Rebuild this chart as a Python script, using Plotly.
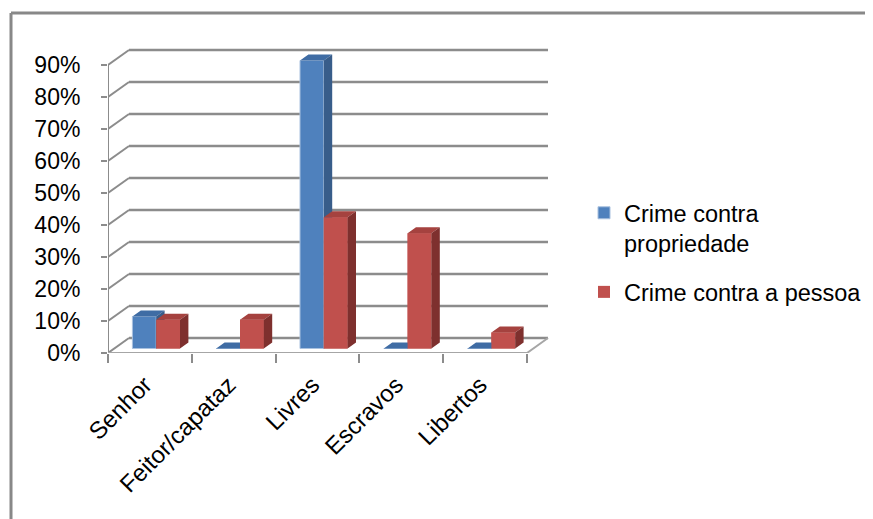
import plotly.graph_objects as go

# ---- data ----
categories = ["Senhor", "Feitor/capataz", "Livres", "Escravos", "Libertos"]
propriedade = [10, 0, 90, 0, 0]      # Crime contra propriedade (%)
pessoa = [9, 9, 41, 36, 5]           # Crime contra a pessoa (%)
y_ticks = [0, 10, 20, 30, 40, 50, 60, 70, 80, 90]
y_ticktext = [f"{v}%" for v in y_ticks]
series_names = ["Crime contra<br>propriedade", "Crime contra a pessoa"]

# ---- geometry (screen pixels) ----
FIG_W, FIG_H = 873, 519
OFF = 6            # page offset of the figure inside the browser window
L, R, T, B = 106, 560, 30, 351
W, H = R - L, B - T
XU = 83.8          # px per category
YU = 3.2           # px per percent
DX = 21 / XU       # wall depth in x units
DY = 15 / YU       # wall depth in y units (%)
F0, F1 = 0.3, 0.7  # bar depth position within the wall depth
BW = 0.284         # single bar width (category units)
LABEL_SHIFT = 5 / XU

n = len(categories)
GRID = "#8c8c8c"
FLOOR = "#a6a6a6"
BLUE, BLUE_TOP, BLUE_SIDE = "#4F81BD", "#3F6CA4", "#385D8A"
RED, RED_TOP, RED_SIDE = "#C0504D", "#A5423F", "#7E302E"

fig = go.Figure()

shapes = []
for v in y_ticks:
    shapes.append(dict(type="line", x0=DX, x1=n + DX, y0=v + DY, y1=v + DY,
                       line=dict(color=GRID, width=2.5), layer="below"))
    shapes.append(dict(type="line", x0=0, x1=DX, y0=v, y1=v + DY,
                       line=dict(color=GRID, width=2), layer="below"))
shapes.append(dict(type="line", x0=0, x1=0, y0=0, y1=y_ticks[-1],
                   line=dict(color=GRID, width=2), layer="below"))
shapes.append(dict(type="line", x0=0, x1=n, y0=0, y1=0,
                   line=dict(color=FLOOR, width=2), layer="below"))
shapes.append(dict(type="line", x0=n, x1=n + DX, y0=0, y1=DY,
                   line=dict(color=FLOOR, width=2), layer="below"))

def px_x(p):
    return (p - L) / W
def px_y(p):
    return (B - p) / H
shapes.append(dict(type="line", xref="paper", yref="paper",
                   x0=px_x(9), x1=px_x(9), y0=px_y(11), y1=px_y(FIG_H + 10),
                   line=dict(color="#888888", width=3)))
shapes.append(dict(type="line", xref="paper", yref="paper",
                   x0=px_x(9), x1=px_x(FIG_W + 10), y0=px_y(11), y1=px_y(11),
                   line=dict(color="#888888", width=3)))

base = F0 * DY
centers = [i + 0.5 + F0 * DX for i in range(n)]
fig.add_trace(go.Bar(x=centers, y=propriedade, base=[base] * n, name=series_names[0],
                     marker=dict(color=BLUE, line=dict(color="#a9c1df", width=1)),
                     legendgroup="a"))
fig.add_trace(go.Bar(x=centers, y=pessoa, base=[base] * n, name=series_names[1],
                     marker=dict(color=RED, line=dict(width=0)),
                     legendgroup="b"))

bdx = (F1 - F0) * DX
bdy = (F1 - F0) * DY

def faces(x0, x1, vals):
    tops_x, tops_y, sides_x, sides_y = [], [], [], []
    for i, v in enumerate(vals):
        a, b_ = x0[i], x1[i]
        t = base + v
        tops_x += [a, b_, b_ + bdx, a + bdx, a, None]
        tops_y += [t, t, t + bdy, t + bdy, t, None]
        sides_x += [b_, b_ + bdx, b_ + bdx, b_, b_, None]
        sides_y += [base, base + bdy, t + bdy, t, base, None]
    return tops_x, tops_y, sides_x, sides_y

def poly(xs, ys, color):
    fig.add_trace(go.Scatter(x=xs, y=ys, fill="toself", fillcolor=color, mode="lines",
                             line=dict(width=0, color=color), hoverinfo="skip",
                             showlegend=False))

bx0 = [c - BW for c in centers]
bx1 = centers
rx0 = centers
rx1 = [c + BW for c in centers]

tx, ty, sx, sy = faces(bx0, bx1, propriedade)
poly(tx, ty, BLUE_TOP)
poly(sx, sy, BLUE_SIDE)
fx, fy = [], []
for i, v in enumerate(pessoa):
    fx += [rx0[i], rx1[i], rx1[i], rx0[i], rx0[i], None]
    fy += [base, base, base + v, base + v, base, None]
poly(fx, fy, RED)
tx, ty, sx, sy = faces(rx0, rx1, pessoa)
poly(tx, ty, RED_TOP)
poly(sx, sy, RED_SIDE)

FONT = "Liberation Sans"
fig.update_layout(
    width=FIG_W, height=FIG_H,
    margin=dict(l=L - OFF, r=FIG_W - R + OFF, t=T - OFF, b=FIG_H - B + OFF, pad=0),
    paper_bgcolor="white", plot_bgcolor="white",
    barmode="group", bargap=1 - 2 * BW, bargroupgap=0,
    shapes=shapes,
    showlegend=True,
    legend=dict(x=px_x(582), y=px_y(189), xanchor="left", yanchor="top",
                font=dict(family=FONT, size=23.5, color="#000"),
                valign="top", tracegroupgap=15, itemwidth=30,
                bgcolor="rgba(0,0,0,0)"),
    font=dict(family=FONT, color="#000"),
)
fig.update_xaxes(range=[0, W / XU], tickmode="array",
                 tickvals=[i + 0.5 - LABEL_SHIFT for i in range(n)], ticktext=categories,
                 tickangle=-45, ticks="", showgrid=False, zeroline=False,
                 showline=False, tickfont=dict(family=FONT, size=24, color="#000"),
                 ticklabelstandoff=12,
                 minor=dict(tickmode="array", tickvals=list(range(n + 1)), ticks="outside",
                            ticklen=9, tickwidth=2, tickcolor=GRID, showgrid=False))
fig.update_yaxes(range=[0, H / YU], tickmode="array", tickvals=y_ticks, ticktext=y_ticktext,
                 ticks="outside", ticklen=6, tickwidth=2, tickcolor=GRID,
                 showgrid=False, zeroline=False, showline=False,
                 tickfont=dict(family=FONT, size=23, color="#000"),
                 ticklabelstandoff=16)

fig.write_html("out.html")
